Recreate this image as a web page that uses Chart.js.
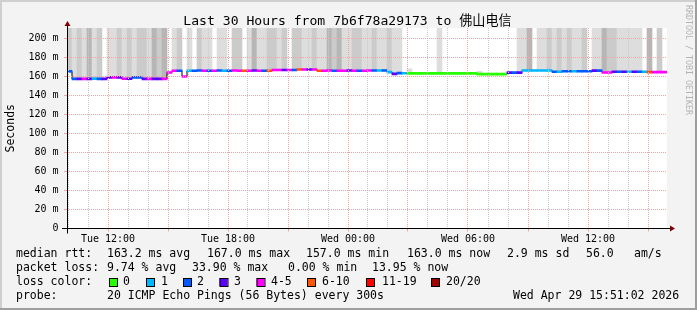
<!DOCTYPE html>
<html><head><meta charset="utf-8">
<script src="https://cdn.jsdelivr.net/npm/chart.js@4"></script>
<style>html,body{margin:0;padding:0;background:#f3f3f3;}canvas{display:block;}</style>
</head><body>
<canvas id="c" width="697" height="310"></canvas>
<script>
// ---- time base (hours since Tue 00:00) ----
const X_MIN = 9.95, X_MAX = 39.95;      // Tue 09:57 .. Wed 15:57 (30 hours)
const START_HOUR = 9.95, STEP_HOURS = 0.25;
const Y_MAX = 211;
const OFF_SCALE = 260;                  // smoke reaching beyond the top of the graph

// ---- median rtt (ms), one value per 15 min ----
const medianMs = [
  165.3,157.5,157.5,157.5,157.5,157.8,157.5,157.5,159,159,
  159,157.6,157.6,159,159,157.5,157.5,157.5,157.5,157.5,
  164.2,166,166,160,166,166,166.3,166,166,166,
  166.3,166,166,166.3,166,166,166,166.3,166,166,
  166,166.8,166.8,166.8,166.8,166.8,167.3,167.3,167.3,167.3,
  166,166,166.3,166,166,166,166.3,166,166,166,
  166.3,166.3,166.3,166.3,164.5,162.8,163.5,163.4,163.2,163.2,
  163.2,163.2,163.2,163.2,163.2,163.2,163.2,163.2,163.2,163.2,
  163.2,163.2,162.5,162.5,162.5,162.5,162.5,162.5,164,164,
  164,166.3,166.3,166.3,166.3,166.3,166.3,165,165,165.5,
  165.5,165.5,165.5,165.5,165.5,166.2,166.2,164.2,164.2,165,
  165,165,165,165,165,165,164.6,164.6,164.6,164.6
];
// ---- loss class per sample (index into lossColors) ----
const lossCode = [
  2,2,3,4,3,1,2,3,3,4,
  3,4,3,2,2,3,4,3,3,4,
  4,4,2,4,1,2,2,4,2,4,
  2,1,2,4,4,5,4,3,4,2,
  5,4,4,3,4,2,5,4,3,4,
  5,4,4,2,4,4,3,4,2,4,
  4,2,1,2,1,3,2,1,0,0,
  0,0,0,0,0,0,0,0,0,0,
  0,0,0,0,0,0,0,0,3,2,
  3,1,1,1,1,1,1,2,1,2,
  2,1,2,2,2,3,2,4,4,3,
  2,3,1,3,2,1,5,4,4,4
];
// ---- smoke shade per sample (0 none, 1 light, 2 mid, 3 dark) ----
const smokeShade = [
  2,1,2,1,3,1,2,0,1,1,
  2,1,2,1,2,2,1,3,2,3,
  0,1,2,0,1,0,2,1,1,0,
  1,1,0,2,2,0,1,3,1,1,
  2,2,1,2,0,2,2,1,1,2,
  1,1,3,2,3,1,1,2,2,1,
  1,2,1,1,2,1,1,0,1,0,
  0,0,0,0,1,0,0,0,0,0,
  0,0,1,0,0,0,0,0,0,0,
  1,1,3,0,1,1,2,1,2,1,
  2,1,1,2,0,1,1,3,2,2,
  1,1,1,1,1,0,3,0,2,0
];
// ---- smoke top per sample (ms), null = no smoke ----
const S = OFF_SCALE;
const smokeTopMs = [
  S,S,S,S,S,S,S,null,S,S,
  S,S,S,S,S,S,S,S,S,S,
  null,S,S,null,S,null,S,S,S,null,
  S,S,null,S,S,null,S,S,S,S,
  S,S,S,S,null,S,S,S,S,S,
  S,S,S,S,S,S,S,S,S,S,
  S,S,S,S,S,S,S,null,168,null,
  null,null,null,null,S,null,null,null,null,null,
  null,null,165.5,null,null,null,null,null,null,null,
  S,S,S,null,S,S,S,S,S,S,
  S,S,S,S,null,S,S,S,S,S,
  S,S,S,S,S,null,S,null,S,null
];

const lossColors = ['#26ff00','#00b8ff','#0059ff','#5e00ff','#ff00ff','#ff5500','#ff0000','#a10000'];
const lossLabels = ['0','1','2','3','4-5','6-10','11-19','20/20'];
const shadeColors = [null,'#dddddd','#cbcbcb','#b6b6b6'];

const xLabelHours = [12,18,24,30,36];
const xLabelTexts = ['Tue 12:00','Tue 18:00','Wed 00:00','Wed 06:00','Wed 12:00'];
const yTickValues = [0,10,20,30,40,50,60,70,80,90,100,110,120,130,140,150,160,170,180,190,200,210];

const titleText = 'Last 30 Hours from 7b6f78a29173 to 佛山电信';
const yTitle = 'Seconds';
const watermark = 'RRDTOOL / TOBI OETIKER';
const rttLine = [['median rtt:',16],['163.2 ms avg',107],['167.0 ms max',207],['157.0 ms min',306],['163.0 ms now',407],['2.9 ms sd',507],['56.0',586],['am/s',634]];
const lossLine = [['packet loss:',16],['9.74 % avg',107],['33.90 % max',192],['0.00 % min',288],['13.95 % now',372]];
const probeLine = [['probe:',16],['20 ICMP Echo Pings (56 Bytes) every 300s',107],['Wed Apr 29 15:51:02 2026',513]];
const lossBoxX = [109,146,183,219.5,256.5,307,366,431];
const lossTextX = [123,161,197,234,271,322,382,446];

const xTickHours = [];
for (let h = Math.ceil(X_MIN); h <= X_MAX; h++) xTickHours.push(h);

const timeAt = i => START_HOUR + STEP_HOURS * (i + 0.5);
const smokeData = medianMs.map((m, i) => ({x: timeAt(i), y: smokeTopMs[i] == null ? null : [m, smokeTopMs[i]]}));
const lineData = medianMs.map((m, i) => ({x: timeAt(i), y: m}));
const bandData = medianMs.map((m, i) => ({x: timeAt(i), y: [m - 1.05, m + 1.05]}));

const RED = '#f4a2a2', GRAY = '#cacaca';
const MONO = '"DejaVu Sans Mono", "Noto Sans CJK SC", monospace';

const decor = {
  id: 'decor',
  beforeDraw(chart) {
    const {ctx, chartArea: a, width, height} = chart;
    ctx.save();
    ctx.fillStyle = '#f3f3f3'; ctx.fillRect(0, 0, width, height);
    ctx.fillStyle = '#ffffff'; ctx.fillRect(a.left, a.top, a.right - a.left, a.bottom - a.top);
    ctx.fillStyle = '#cfcfcf'; ctx.fillRect(0, 0, width, 2); ctx.fillRect(0, 0, 2, height);
    ctx.fillStyle = '#9e9e9e'; ctx.fillRect(0, height - 2, width, 2); ctx.fillRect(width - 2, 0, 2, height);
    ctx.restore();
  },
  afterDraw(chart) {
    const {ctx, chartArea: a, scales} = chart;
    const y0 = Math.floor(scales.y.getPixelForValue(0)) + 0.5;
    const xl = Math.floor(a.left) + 0.5;
    ctx.save();
    ctx.strokeStyle = '#000'; ctx.lineWidth = 1;
    ctx.beginPath();
    ctx.moveTo(a.left - 5, y0); ctx.lineTo(a.right + 3, y0);
    ctx.moveTo(xl, y0 + 5); ctx.lineTo(xl, a.top - 2);
    ctx.stroke();
    ctx.fillStyle = '#800000';
    ctx.beginPath(); ctx.moveTo(xl - 3, a.top - 2); ctx.lineTo(xl + 3, a.top - 2); ctx.lineTo(xl, a.top - 7); ctx.closePath(); ctx.fill();
    ctx.beginPath(); ctx.moveTo(a.right + 3, y0 - 3); ctx.lineTo(a.right + 3, y0 + 3); ctx.lineTo(a.right + 8, y0); ctx.closePath(); ctx.fill();

    ctx.fillStyle = '#000';
    ctx.textBaseline = 'middle';
    ctx.textAlign = 'center';
    ctx.font = '13.1px ' + MONO;
    ctx.fillText(titleText, 347.5, 21.5);

    ctx.save();
    ctx.translate(11, (a.top + a.bottom) / 2);
    ctx.rotate(-Math.PI / 2);
    ctx.font = '11.5px ' + MONO;
    ctx.fillText(yTitle, 0, 0);
    ctx.restore();

    ctx.save();
    ctx.translate(688, 60);
    ctx.rotate(Math.PI / 2);
    ctx.fillStyle = '#b4b4b4';
    ctx.font = '8.3px ' + MONO;
    ctx.fillText(watermark, 0, 0);
    ctx.restore();

    ctx.textAlign = 'left';
    ctx.font = '11.5px ' + MONO;
    rttLine.forEach(([t, x]) => ctx.fillText(t, x, 254.3));
    lossLine.forEach(([t, x]) => ctx.fillText(t, x, 268.3));
    ctx.fillText('loss color:', 16, 282.3);
    lossLabels.forEach((t, i) => {
      ctx.fillStyle = lossColors[i];
      ctx.fillRect(lossBoxX[i], 278, 8, 8);
      ctx.strokeStyle = '#000';
      ctx.strokeRect(lossBoxX[i] + 0.5, 278.5, 8, 8);
      ctx.fillStyle = '#000';
      ctx.fillText(t, lossTextX[i], 282.3);
    });
    probeLine.forEach(([t, x]) => ctx.fillText(t, x, 296));
    ctx.restore();
  }
};

const isMajorX = c => c.tick && c.tick.value % 3 === 0;
const isMajorY = c => c.tick && c.tick.value % 20 === 0;

new Chart(document.getElementById('c'), {
  type: 'bar',
  data: {
    datasets: [
      {type: 'bar', data: smokeData, grouped: false, order: 3, barPercentage: 1, categoryPercentage: 1,
       backgroundColor: c => shadeColors[smokeShade[c.dataIndex]] || 'rgba(0,0,0,0)', borderWidth: 0},
      {type: 'line', data: lineData, order: 2, borderColor: '#000', borderWidth: 1, pointRadius: 0, stepped: 'middle', fill: false},
      {type: 'bar', data: bandData, grouped: false, order: 1, barPercentage: 1, categoryPercentage: 1,
       backgroundColor: c => lossColors[lossCode[c.dataIndex]], borderWidth: 0}
    ]
  },
  options: {
    responsive: false, animation: false, devicePixelRatio: 1,
    layout: {padding: {top: 28, right: 30, left: 0, bottom: 0}},
    plugins: {legend: {display: false}, tooltip: {enabled: false}, title: {display: false}},
    scales: {
      x: {
        type: 'linear', min: X_MIN, max: X_MAX, offset: false,
        afterBuildTicks: s => { s.ticks = xTickHours.map(v => ({value: v})); },
        afterFit: s => { s.height = 81.5; },
        grid: {offset: false, color: c => isMajorX(c) ? RED : GRAY,
               tickColor: c => isMajorX(c) ? RED : 'rgba(0,0,0,0)', tickLength: 3, z: 1},
        border: {display: false, dash: [1, 1]},
        ticks: {autoSkip: false, maxRotation: 0, padding: 1.5, color: '#000', font: {family: 'DejaVu Sans Mono', size: 10},
          callback: v => { const k = xLabelHours.indexOf(v); return k >= 0 ? xLabelTexts[k] : ''; }}
      },
      y: {
        type: 'linear', min: 0, max: Y_MAX,
        afterBuildTicks: s => { s.ticks = yTickValues.map(v => ({value: v})); },
        afterFit: s => { s.width = 67; },
        grid: {color: c => isMajorY(c) ? RED : GRAY,
               tickColor: c => isMajorY(c) ? RED : 'rgba(0,0,0,0)', tickLength: 3, z: 1},
        border: {display: false, dash: [1, 1]},
        ticks: {padding: 5.5, color: '#000', font: {family: 'DejaVu Sans Mono', size: 10},
          callback: v => v % 20 === 0 ? (v === 0 ? '0' : v + ' m') : ''}
      }
    }
  },
  plugins: [decor]
});
</script>
</body></html>
